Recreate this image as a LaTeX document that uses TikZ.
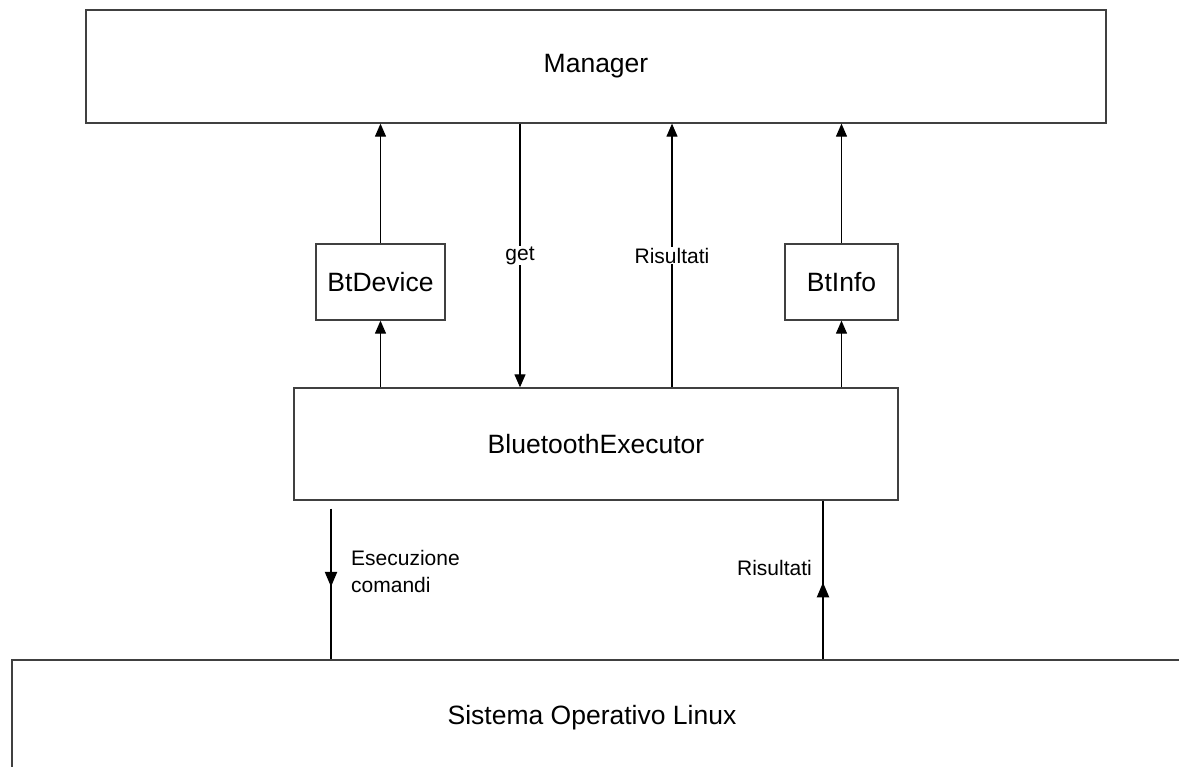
\documentclass[tikz,border=0pt]{standalone}
\usepackage{fontspec}
\setmainfont{Liberation Sans}
\usetikzlibrary{arrows.meta,decorations.markings}
\begin{document}
\begin{tikzpicture}[x=1pt,y=-1pt,
 box/.style={draw=black!75, line width=1.3pt, fill=white, inner sep=0pt, font=\fontsize{26.5}{30}\selectfont},
 lbl/.style={font=\fontsize{21}{27}\selectfont, inner sep=1pt, align=left},
 conn/.style={line width=1.2pt, -{Triangle[length=13pt,width=11pt]}},
 midarrow/.style={line width=2.2pt, postaction={decorate}, decoration={markings, mark=at position #1 with {\arrow{Triangle[length=15pt,width=12pt]}}}}
]
\useasboundingbox (0,0) rectangle (1179,767);
\node[box, minimum width=1020pt, minimum height=113pt] (manager) at (596,66.5) {Manager};
\node[box, minimum width=129pt, minimum height=76pt] (btdev) at (380.5,282) {BtDevice};
\node[box, minimum width=113pt, minimum height=76pt] (btinfo) at (841.5,282) {BtInfo};
\node[box, minimum width=604pt, minimum height=112pt] (exec) at (596,444) {BluetoothExecutor};
\node[draw=black!75, line width=2pt, minimum width=1250pt, minimum height=200pt, anchor=north west, inner sep=0pt] (linux) at (11,659) {};
\node[font=\fontsize{26.5}{30}\selectfont, inner sep=0pt] (linuxtext) at (592,718) {Sistema Operativo Linux};
\coordinate (g) at (520,0);
\coordinate (r) at (672,0);
\coordinate (e) at (331,0);
\coordinate (q) at (823,0);
% upper connectors
\draw[conn] (btdev.north) -- (btdev.north |- manager.south);
\draw[conn] (btdev.south |- exec.north) -- (btdev.south);
\draw[conn] (btinfo.north) -- (btinfo.north |- manager.south);
\draw[conn] (btinfo.south |- exec.north) -- (btinfo.south);
\draw[conn] (manager.south -| g) -- (exec.north -| g) node[lbl, fill=white, midway] (getl) {get};
\draw[conn] (exec.north -| r) -- (manager.south -| r) node[lbl, fill=white, midway] (risl) {Risultati};
% lower connectors
\draw[midarrow=0.52] ([yshift=-8pt]exec.south -| e) -- (linux.north -| e);
\draw[midarrow=0.484] (linux.north -| q) -- (exec.south -| q);
\node[lbl, anchor=west] (esec) at (350,571) {Esecuzione\\comandi};
\node[lbl, anchor=east] (ris2) at (813,568) {Risultati};
\end{tikzpicture}
\end{document}
